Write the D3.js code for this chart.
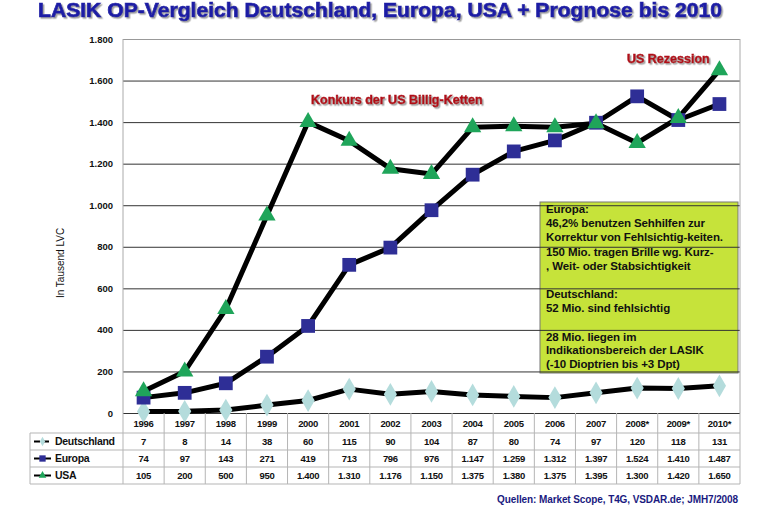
<!DOCTYPE html>
<html>
<head>
<meta charset="utf-8">
<script src="https://cdn.jsdelivr.net/npm/d3@7/dist/d3.min.js"></script>
<style>
  body { margin: 0; background: #fff; }
  text { font-family: "Liberation Sans", Arial, sans-serif; font-weight: bold; }
</style>
</head>
<body>
<div id="chart"></div>
<script>
var years = ["1996","1997","1998","1999","2000","2001","2002","2003","2004","2005","2006","2007","2008*","2009*","2010*"];
var deutschland = [7, 8, 14, 38, 60, 115, 90, 104, 87, 80, 74, 97, 120, 118, 131];
var europa = [74, 97, 143, 271, 419, 713, 796, 976, 1147, 1259, 1312, 1397, 1524, 1410, 1487];
var usa = [105, 200, 500, 950, 1400, 1310, 1176, 1150, 1375, 1380, 1375, 1395, 1300, 1420, 1650];
var yTicks = [0, 200, 400, 600, 800, 1000, 1200, 1400, 1600, 1800];
var boxLines = [
  "Europa:", "46,2% benutzen Sehhilfen zur", "Korrektur von Fehlsichtig-keiten.",
  "150 Mio. tragen Brille wg. Kurz-", ", Weit- oder Stabsichtigkeit",
  "Deutschland:", "52 Mio. sind fehlsichtig",
  "28 Mio. liegen im", "Indikationsbereich der LASIK", "(-10 Dioptrien bis +3 Dpt)"
];

var W = 762, H = 508,
    margin = {left: 123, right: 22, top: 39, bottom: 95},
    width = W - margin.left - margin.right,
    height = H - margin.top - margin.bottom;

var de = d3.formatLocale({decimal: ",", thousands: ".", grouping: [3], currency: ["", "€"]});
var fmt = de.format(",");

var svg = d3.select("#chart").append("svg").attr("width", W).attr("height", H);

var defs = svg.append("defs");
defs.append("filter").attr("id", "shadow").attr("x", "-5%").attr("y", "-30%").attr("width", "110%").attr("height", "160%")
  .append("feDropShadow").attr("dx", 1.5).attr("dy", 1.5).attr("stdDeviation", 0.6)
  .attr("flood-color", "#888").attr("flood-opacity", 0.8);

// title
svg.append("text").attr("x", 380).attr("y", 17).attr("text-anchor", "middle")
  .attr("font-size", 20).attr("fill", "#1f1fa5").attr("stroke", "#1f1fa5").attr("stroke-width", 0.7)
  .attr("textLength", 684).attr("lengthAdjust", "spacingAndGlyphs")
  .attr("filter", "url(#shadow)")
  .text("LASIK OP-Vergleich Deutschland, Europa, USA + Prognose bis 2010");

var x = d3.scaleBand().domain(years).range([0, width]);
var y = d3.scaleLinear().domain([0, 1800]).range([height, 0]);

var g = svg.append("g").attr("transform", "translate(" + margin.left + "," + margin.top + ")");

// info box (behind gridlines)
var bx = 540 - margin.left, by = 202 - margin.top;
g.append("rect").attr("x", bx).attr("y", by).attr("width", 198).attr("height", 171)
  .attr("fill", "#c6e33a").attr("stroke", "#777").attr("stroke-width", 1);

// gridlines
var yAxis = d3.axisLeft(y).tickValues(yTicks).tickSize(-width).tickFormat(fmt);
var ya = g.append("g").call(yAxis);
ya.select(".domain").remove();
ya.selectAll(".tick line").attr("stroke", function (d) { return d === 1800 ? "#999" : "#333"; })
  .attr("stroke-width", 1);
ya.selectAll(".tick text").attr("x", -10).attr("font-size", 9.5).attr("fill", "#111")
  .style("font-family", "'Liberation Sans', Arial, sans-serif").style("font-weight", "bold");

// plot frame sides
g.append("line").attr("x1", 0).attr("x2", 0).attr("y1", 0).attr("y2", height).attr("stroke", "#aaa");
g.append("line").attr("x1", width).attr("x2", width).attr("y1", 0).attr("y2", height).attr("stroke", "#aaa");

// box text
var ty = [213, 227, 241, 256, 270, 298, 312, 341, 354, 368];
g.selectAll(".boxtxt").data(boxLines).enter().append("text")
  .attr("x", bx + 6).attr("y", function (d, i) { return ty[i] - margin.top; })
  .attr("font-size", 11.5).attr("fill", "#111").attr("letter-spacing", -0.1)
  .text(function (d) { return d; });

// y label
svg.append("text").attr("transform", "translate(64,263) rotate(-90)").attr("text-anchor", "middle")
  .attr("font-size", 10).attr("fill", "#111").style("font-weight", "normal").text("In Tausend LVC");

var cx = function (i) { return x(years[i]) + x.bandwidth() / 2; };
var line = d3.line().x(function (d, i) { return cx(i); }).y(function (d) { return y(d); });

var series = [
  {name: "Deutschland", values: deutschland, color: "#b4dcdc", shape: d3.symbolDiamond, size: 150},
  {name: "Europa", values: europa, color: "#2e2e96", shape: d3.symbolSquare, size: 190},
  {name: "USA", values: usa, color: "#1fa55a", shape: d3.symbolTriangle, size: 130}
];

series.forEach(function (s) {
  g.append("path").datum(s.values).attr("d", line).attr("fill", "none")
    .attr("stroke", "#000").attr("stroke-width", 5).attr("stroke-linejoin", "round");
});
series.forEach(function (s) {
  g.selectAll(null).data(s.values).enter().append("path")
    .attr("d", d3.symbol().type(s.shape).size(s.size))
    .attr("transform", function (d, i) { return "translate(" + cx(i) + "," + y(d) + ")"; })
    .attr("fill", s.color);
});

// annotations
function shadowText(txt, px, py, size, color) {
  svg.append("text").attr("x", px).attr("y", py).attr("font-size", size).attr("fill", color)
    .attr("stroke", color).attr("stroke-width", 0.5).attr("filter", "url(#shadow)").text(txt);
}
shadowText("Konkurs der US Billig-Ketten", 311, 104, 12.5, "#b0101a");
shadowText("US Rezession", 627, 63, 12.5, "#b0101a");

// data table
var rowY = [413, 433, 450, 467, 484];
var tleft = 30;
var tg = svg.append("g");
var gridColor = "#b5b5b5";
rowY.slice(1).forEach(function (ry) {
  tg.append("line").attr("x1", tleft).attr("x2", margin.left + width).attr("y1", ry).attr("y2", ry).attr("stroke", gridColor);
});
tg.append("line").attr("x1", tleft).attr("x2", tleft).attr("y1", rowY[1]).attr("y2", rowY[4]).attr("stroke", gridColor);
years.forEach(function (yr) {
  var xx = margin.left + x(yr);
  tg.append("line").attr("x1", xx).attr("x2", xx).attr("y1", rowY[0]).attr("y2", rowY[4]).attr("stroke", gridColor);
});
tg.append("line").attr("x1", margin.left + width).attr("x2", margin.left + width).attr("y1", rowY[0]).attr("y2", rowY[4]).attr("stroke", gridColor);

// header years
tg.selectAll(".yr").data(years).enter().append("text")
  .attr("x", function (d, i) { return margin.left + cx(i); }).attr("y", 427)
  .attr("text-anchor", "middle").attr("font-size", 9.5).attr("fill", "#111").attr("letter-spacing", -0.3)
  .text(function (d) { return d; });

series.forEach(function (s, k) {
  var ry = (rowY[k + 1] + rowY[k + 2]) / 2;
  tg.append("line").attr("x1", 34).attr("x2", 51).attr("y1", ry).attr("y2", ry)
    .attr("stroke", "#000").attr("stroke-width", 2).attr("stroke-dasharray", k === 0 ? "6,3" : null);
  tg.append("path").attr("d", d3.symbol().type(s.shape).size(k === 1 ? 40 : 25))
    .attr("transform", "translate(42.5," + ry + ")").attr("fill", s.color);
  tg.append("text").attr("x", 55).attr("y", ry + 3.5).attr("font-size", 10.5).attr("fill", "#111")
    .attr("letter-spacing", -0.3).text(s.name);
  tg.selectAll(null).data(s.values).enter().append("text")
    .attr("x", function (d, i) { return margin.left + cx(i); }).attr("y", ry + 3.5)
    .attr("text-anchor", "middle").attr("font-size", 9.5).attr("fill", "#111").attr("letter-spacing", -0.3)
    .text(function (d) { return fmt(d); });
});

// sources
svg.append("text").attr("x", 738).attr("y", 503).attr("text-anchor", "end")
  .attr("font-size", 10).attr("fill", "#1a1a80").attr("letter-spacing", -0.1)
  .text("Quellen: Market Scope, T4G, VSDAR.de; JMH7/2008");
</script>
</body>
</html>
